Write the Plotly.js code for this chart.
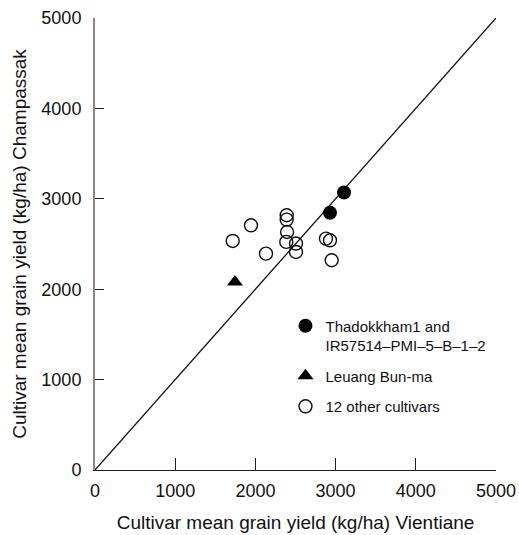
<!DOCTYPE html>
<html>
<head>
<meta charset="utf-8">
<script src="https://cdn.plot.ly/plotly-3.0.1.min.js"></script>
<style>
  html, body { margin: 0; padding: 0; background: #fff; }
  #chart { width: 519px; height: 535px; }
</style>
</head>
<body>
<div id="chart"></div>
<script>
// Cultivar mean grain yield (kg/ha): Vientiane (x) vs Champassak (y)
const highX = [2930, 3105];
const highY = [2845, 3070];

const leuangX = [1745];
const leuangY = [2080];

const otherX = [1717, 1945, 2132, 2390, 2390, 2395, 2385, 2506, 2506, 2880, 2930, 2951];
const otherY = [2534, 2707, 2394, 2818, 2770, 2633, 2523, 2505, 2412, 2560, 2541, 2320];

// 1:1 reference line
const lineX = [0, 5000];
const lineY = [0, 5000];

const tickVals = [0, 1000, 2000, 3000, 4000, 5000];

const names = [
  'Thadokkham1 and<br>IR57514\u2013PMI\u20135\u2013B\u20131\u20132',
  'Leuang Bun-ma',
  '12 other cultivars'
];

const font = 'Liberation Sans, Arial, Helvetica, sans-serif';

const traces = [
  {
    x: lineX, y: lineY, mode: 'lines', type: 'scatter',
    line: { color: '#111', width: 1.3 },
    showlegend: false, hoverinfo: 'skip'
  },
  {
    x: highX, y: highY, mode: 'markers', type: 'scatter', name: names[0],
    legendgroup: 'a',
    marker: { symbol: 'circle', size: 14, color: '#000' }
  },
  {
    x: leuangX, y: leuangY, mode: 'markers', type: 'scatter', name: names[1],
    legendgroup: 'b',
    marker: { symbol: 'triangle-up', size: 14, color: '#000' }
  },
  {
    x: otherX, y: otherY, mode: 'markers', type: 'scatter', name: names[2],
    legendgroup: 'c',
    marker: { symbol: 'circle-open', size: 13, color: '#111', line: { width: 1.4 } }
  }
];

const layout = {
  width: 519, height: 535,
  margin: { l: 95, r: 23, t: 18, b: 65 },
  paper_bgcolor: '#fff', plot_bgcolor: '#fff',
  font: { family: font, color: '#111', size: 18 },
  showlegend: true,
  legend: {
    x: 0.475, y: 0.355, xanchor: 'left', yanchor: 'top',
    bgcolor: 'rgba(0,0,0,0)', borderwidth: 0,
    font: { family: font, size: 15, color: '#111' },
    valign: 'top', traceorder: 'grouped', tracegroupgap: 8
  },
  xaxis: {
    range: [0, 5000], tickvals: tickVals, ticktext: tickVals.map(String),
    showgrid: false, zeroline: false,
    showline: true, linecolor: '#222', linewidth: 1.3,
    ticks: 'inside', ticklen: 12, tickwidth: 1.3, tickcolor: '#222',
    tickfont: { size: 18 }, ticklabelstandoff: 4,
    title: { text: 'Cultivar mean grain yield (kg/ha) Vientiane', font: { size: 19 }, standoff: 15 }
  },
  yaxis: {
    range: [0, 5000], tickvals: tickVals, ticktext: tickVals.map(String),
    showgrid: false, zeroline: false,
    showline: true, linecolor: '#888', linewidth: 2,
    ticks: 'inside', ticklen: 9, tickwidth: 1.3, tickcolor: '#222',
    tickfont: { size: 18 }, ticklabelstandoff: 8,
    title: { text: 'Cultivar mean grain yield (kg/ha) Champassak', font: { size: 19 }, standoff: 10 }
  }
};

Plotly.newPlot('chart', traces, layout, { displayModeBar: false, staticPlot: true });
</script>
</body>
</html>
